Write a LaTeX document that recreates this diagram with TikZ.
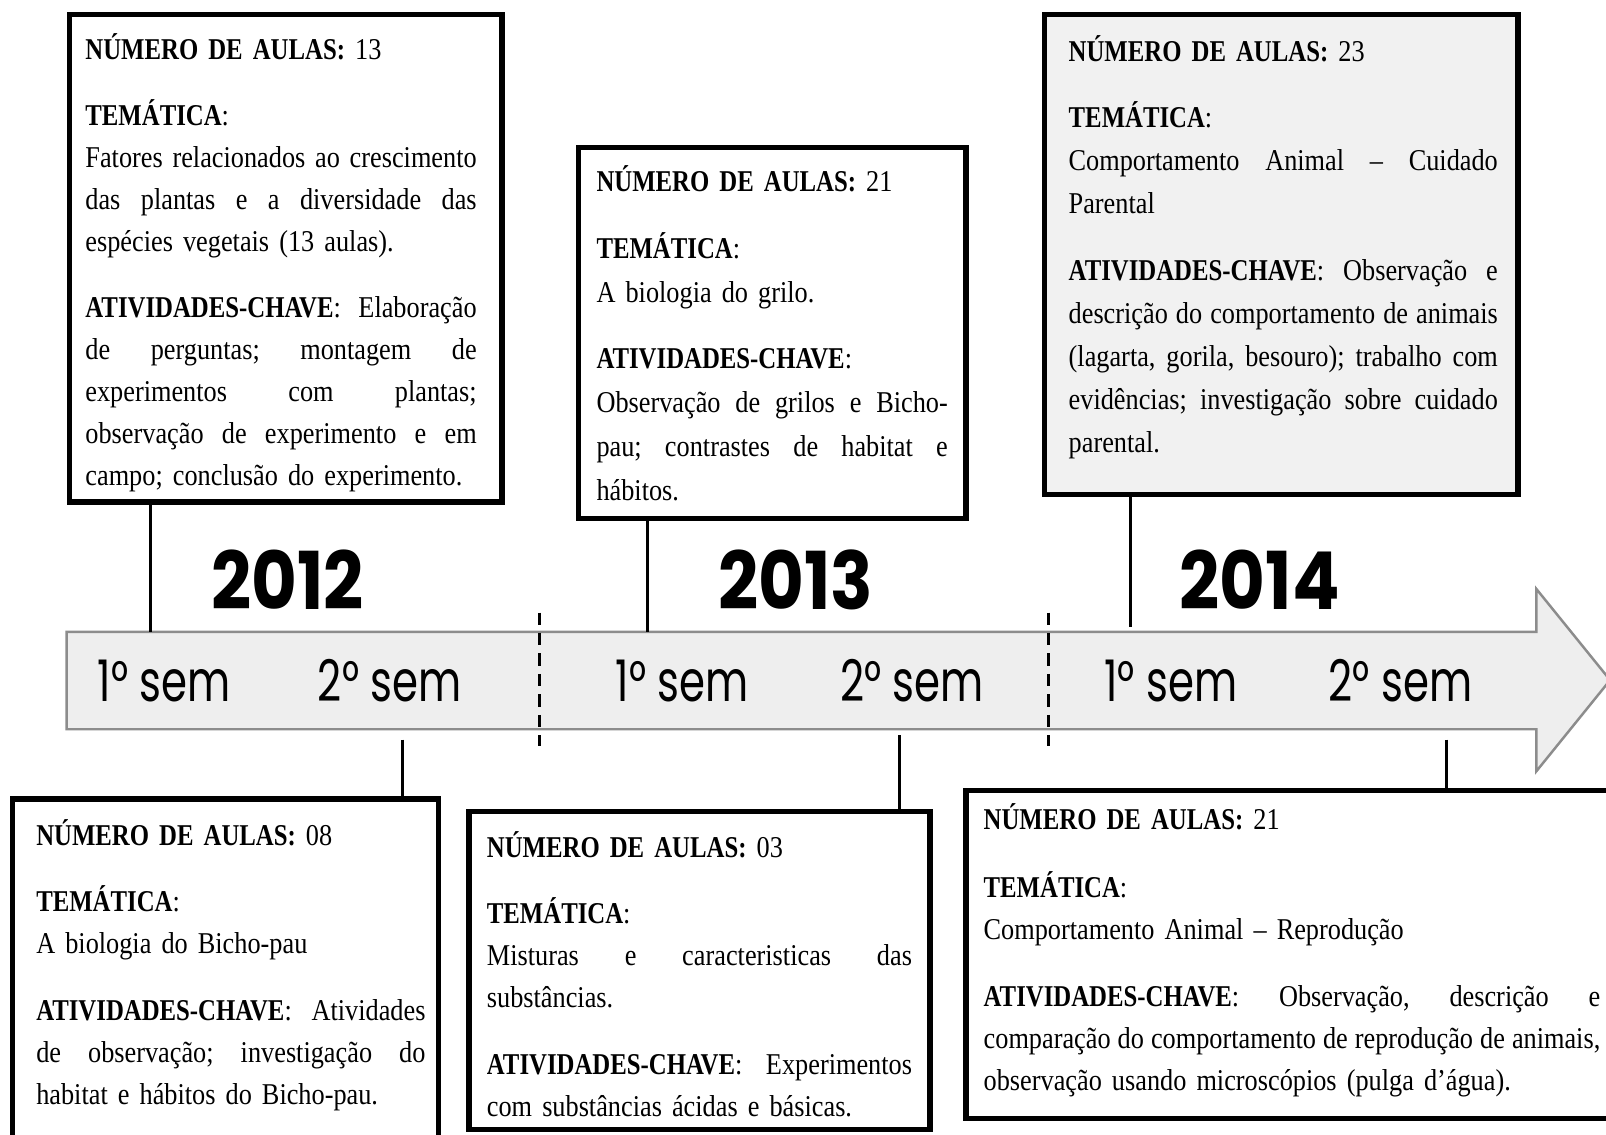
\documentclass[tikz,border=0pt]{standalone}
\usepackage{fontspec}
\setmainfont{Liberation Serif}[FakeStretch=0.87, BoldFeatures={FakeStretch=0.82}]
\newfontfamily\gothic{Poppins}[FakeStretch=0.73]
\newfontfamily\yearfont{Poppins}[FakeStretch=0.88]
\usetikzlibrary{fit}
\definecolor{arrowfill}{HTML}{EEEEEE}
\definecolor{arrowline}{HTML}{8C8C8C}
\definecolor{boxgray}{HTML}{F1F1F1}
\newlength\jwd
\newcommand\J[1]{\makebox[\jwd][s]{\spaceskip=0.22em plus 1fil minus 0.09em\relax\xspaceskip=\spaceskip#1}}
\begin{document}
\frenchspacing
\begin{tikzpicture}[x=0.5pt,y=-0.5pt,
  box/.style={draw=black, line width=2.6pt, inner sep=0pt, fill=white},
  txt/.style={inner sep=0pt, align=left, anchor=base west, font=\fontsize{14.75pt}{20.5pt}\selectfont},
  link/.style={draw=black, line width=1.6pt},
  sepline/.style={draw=black, line width=1.6pt, dash pattern=on 6pt off 4pt},
  yr/.style={inner sep=0pt, anchor=base, font=\yearfont\bfseries\fontsize{39pt}{39pt}\selectfont},
  semlbl/.style={inner sep=0pt, anchor=base west, font=\gothic\fontsize{28pt}{28pt}\selectfont}]
\useasboundingbox (0,0) rectangle (1568,1108);
\fill[white] (0,0) rectangle (1568,1108);

% timeline arrow
\path[fill=arrowfill, draw=arrowline, line width=1.2pt]
  (65,617) -- (1500,617) -- (1500,575) -- (1572,664) -- (1500,753) -- (1500,712) -- (65,712) -- cycle;

% year separators
\coordinate (d1a) at (527,598); \coordinate (d1b) at (527,728);
\coordinate (d2a) at (1024,598); \coordinate (d2b) at (1024,728);
\draw[sepline] (d1a) -- (d1b);
\draw[sepline] (d2a) -- (d2b);

% years
\node[yr] (y12) at (281,595) {2012};
\node[yr] (y13) at (777,595) {2013};
\node[yr] (y14) at (1230,595) {2014};

% semesters
\node[semlbl] (s1a) at (95,685) {1° sem};
\node[semlbl] (s1b) at (310,685) {2° sem};
\node[semlbl] (s2a) at (601,685) {1° sem};
\node[semlbl] (s2b) at (820,685) {2° sem};
\node[semlbl] (s3a) at (1078,685) {1° sem};
\node[semlbl] (s3b) at (1297,685) {2° sem};

% boxes
\node[box, fit={(68,14)(490,490)}] (b1) {};
\node[box, fit={(565,144)(943,506)}] (b2) {};
\node[box, fill=boxgray, fit={(1020,14)(1482,483)}] (b3) {};
\node[box, fit={(12,780)(428,1140)}] (b4) {};
\node[box, fit={(458,792)(908,1103)}] (b5) {};
\node[box, fit={(943,772)(1620,1092)}] (b6) {};

% anchor points on the arrow
\coordinate (a1) at (147,617);
\coordinate (a2) at (632,617);
\coordinate (a3) at (1104,612);
\coordinate (a4) at (393,722);
\coordinate (a5) at (878,718);
\coordinate (a6) at (1412,722);

\draw[link] (b1.south -| a1) -- (a1);
\draw[link] (b2.south -| a2) -- (a2);
\draw[link] (b3.south -| a3) -- (a3);
\draw[link] (a4) -- (a4 |- b4.north);
\draw[link] (a5) -- (a5 |- b5.north);
\draw[link] (a6) -- (a6 |- b6.north);

% texts
\node[txt, text width=191pt] (t1) at (83,58) {\setlength\jwd{191pt}%
\textbf{NÚMERO DE AULAS:} 13\\[12pt]
\textbf{TEMÁTICA}:\\
\J{Fatores relacionados ao crescimento}\\
\J{das plantas e a diversidade das}\\
espécies vegetais (13 aulas).\\[11.5pt]
\J{\textbf{ATIVIDADES-CHAVE}: Elaboração}\\
\J{de perguntas; montagem de}\\
\J{experimentos com plantas;}\\
\J{observação de experimento e em}\\
campo; conclusão do experimento.};

\node[txt, text width=171.5pt, font=\fontsize{14.75pt}{21.5pt}\selectfont] (t2) at (582,187) {\setlength\jwd{171.5pt}%
\textbf{NÚMERO DE AULAS:} 21\\[11pt]
\textbf{TEMÁTICA}:\\
A biologia do grilo.\\[11pt]
\textbf{ATIVIDADES-CHAVE}:\\
\J{Observação de grilos e Bicho-}\\
\J{pau; contrastes de habitat e}\\
hábitos.};

\node[txt, text width=209.5pt, font=\fontsize{14.75pt}{20.9pt}\selectfont] (t3) at (1043,60) {\setlength\jwd{209.5pt}%
\textbf{NÚMERO DE AULAS:} 23\\[11.5pt]
\textbf{TEMÁTICA}:\\
\J{Comportamento Animal – Cuidado}\\
Parental\\[12pt]
\J{\textbf{ATIVIDADES-CHAVE}: Observação e}\\
\J{descrição do comportamento de animais}\\
\J{(lagarta, gorila, besouro); trabalho com}\\
\J{evidências; investigação sobre cuidado}\\
parental.};

\node[txt, text width=190pt] (t4) at (35,825) {\setlength\jwd{190pt}%
\textbf{NÚMERO DE AULAS:} 08\\[12pt]
\textbf{TEMÁTICA}:\\
A biologia do Bicho-pau\\[12pt]
\J{\textbf{ATIVIDADES-CHAVE}: Atividades}\\
\J{de observação; investigação do}\\
habitat e hábitos do Bicho-pau.};

\node[txt, text width=207.5pt] (t5) at (475,837) {\setlength\jwd{207.5pt}%
\textbf{NÚMERO DE AULAS:} 03\\[12pt]
\textbf{TEMÁTICA}:\\
\J{Misturas e caracteristicas das}\\
substâncias.\\[12pt]
\J{\textbf{ATIVIDADES-CHAVE}: Experimentos}\\
com substâncias ácidas e básicas.};

\node[txt, text width=301pt] (t6) at (960,810) {\setlength\jwd{301pt}%
\textbf{NÚMERO DE AULAS:} 21\\[12.5pt]
\textbf{TEMÁTICA}:\\
Comportamento Animal – Reprodução\\[12.5pt]
\J{\textbf{ATIVIDADES-CHAVE}: Observação, descrição e}\\
\J{comparação do comportamento de reprodução de animais,}\\
observação usando microscópios (pulga d’água).};
\end{tikzpicture}
\end{document}
